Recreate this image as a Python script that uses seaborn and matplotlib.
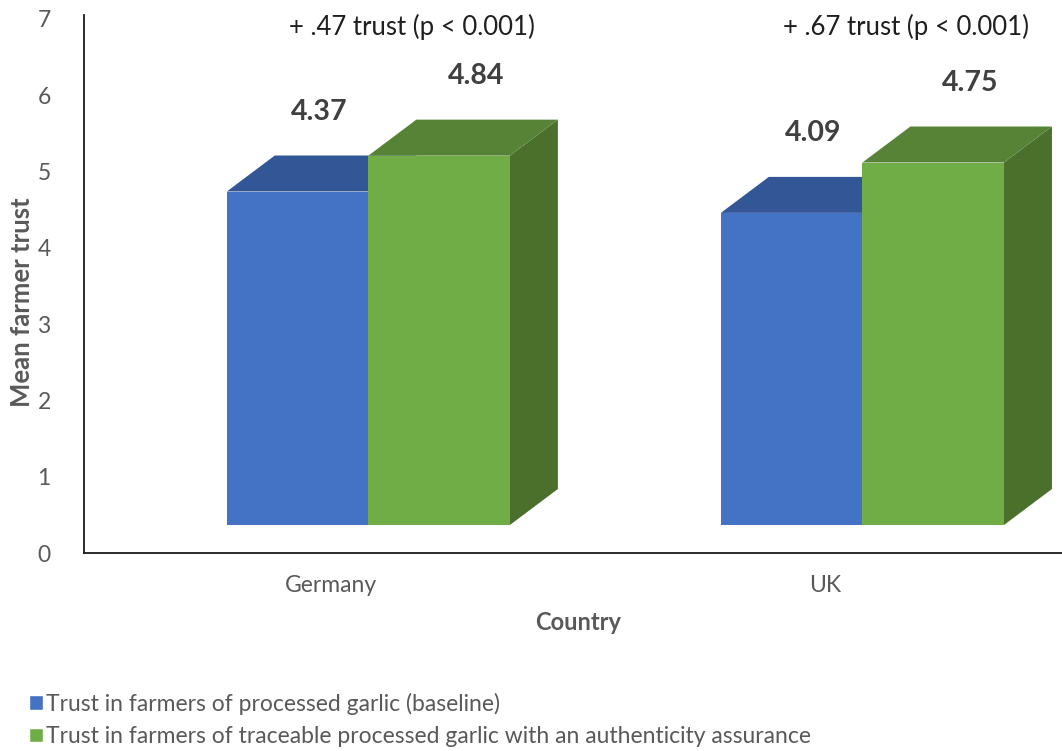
import matplotlib
matplotlib.use("Agg")
import matplotlib.pyplot as plt
import numpy as np
import pandas as pd
import seaborn as sns
from matplotlib.patches import Polygon, Patch
from matplotlib.transforms import Affine2D, IdentityTransform, ScaledTranslation

# ---- data -------------------------------------------------------------
countries = ["Germany", "UK"]
conditions = [
    "Trust in farmers of processed garlic (baseline)",
    "Trust in farmers of traceable processed garlic with an authenticity assurance",
]
baseline_trust = [4.37, 4.09]
assured_trust = [4.84, 4.75]
differences = ["+ .47 trust (p < 0.001)", "+ .67 trust (p < 0.001)"]
y_ticks = [0, 1, 2, 3, 4, 5, 6, 7]

# ---- style ------------------------------------------------------------
BLUE, BLUE_TOP, BLUE_SIDE = "#4472C4", "#335796", "#2E4F8A"
GREEN, GREEN_TOP, GREEN_SIDE = "#70AD47", "#568336", "#4A702C"
TOP_COLORS = [BLUE_TOP, GREEN_TOP]
SIDE_COLORS = [BLUE_SIDE, GREEN_SIDE]
GREY = "#595959"

BASE_PX = 28          # front faces sit above the floor of the 3D box
DEPTH_DX, DEPTH_DY = 48, 36   # receding depth of each column (pixels)
LABEL_DX = [22, 37]   # value label shift per series (pixels)

sns.set_theme(style="white")
plt.rcParams["font.family"] = ["Lato", "DejaVu Sans"]

df = pd.DataFrame({
    "Country": countries * 2,
    "Condition": [conditions[0]] * len(countries) + [conditions[1]] * len(countries),
    "Trust": baseline_trust + assured_trust,
})

fig = plt.figure(figsize=(10.62, 7.51), dpi=100)
ax = fig.add_axes([84 / 1062, 198 / 751, 978 / 1062, 538 / 751])

sns.barplot(
    data=df, x="Country", y="Trust", hue="Condition",
    order=countries, hue_order=conditions,
    palette=[BLUE, GREEN], saturation=1, width=0.573,
    linewidth=0, errorbar=None, legend=False, ax=ax,
)

ax.set_xlim(-0.5755, 1.404)
ax.set_ylim(0, 7.05)
ax.set_yticks(y_ticks)

# ---- 3D column faces ---------------------------------------------------
lift = Affine2D().translate(0, BASE_PX)
for p in list(ax.patches):
    x, w, h = p.get_x(), p.get_width(), p.get_height()
    k = 0 if (x + w / 2) < round(x + w / 2) else 1
    p.set_transform(ax.transData + lift)
    p.set_zorder(2 + k)

    (x0, y0), (x1, y1) = ax.transData.transform([(x, 0), (x + w, h)])
    y0 += BASE_PX
    y1 += BASE_PX
    top = Polygon(
        [(x0, y1), (x1, y1), (x1 + DEPTH_DX, y1 + DEPTH_DY), (x0 + DEPTH_DX, y1 + DEPTH_DY)],
        closed=True, facecolor=TOP_COLORS[k], edgecolor="none",
        transform=IdentityTransform(), zorder=2 + k,
    )
    side = Polygon(
        [(x1, y0), (x1, y1), (x1 + DEPTH_DX, y1 + DEPTH_DY), (x1 + DEPTH_DX, y0 + DEPTH_DY)],
        closed=True, facecolor=SIDE_COLORS[k], edgecolor="none",
        transform=IdentityTransform(), zorder=2 + k - 0.5,
    )
    ax.add_patch(side)
    ax.add_patch(top)

    ax.annotate(
        f"{h:.2f}", xy=(x + w / 2, h), xytext=(LABEL_DX[k], 108),
        textcoords="offset pixels", ha="center", va="center",
        fontsize=20.5, fontweight="bold", color="#404040", zorder=5,
    )

# ---- difference annotations ---------------------------------------------
for i, txt in enumerate(differences):
    ax.annotate(
        txt, xy=(i, 1), xycoords=("data", "axes fraction"),
        xytext=(44, -12), textcoords="offset pixels",
        ha="center", va="center", fontsize=18.5, color="#1f1f1f",
        annotation_clip=False,
    )

# ---- axes styling --------------------------------------------------------
for side_name in ["top", "right"]:
    ax.spines[side_name].set_visible(False)
for side_name in ["left", "bottom"]:
    ax.spines[side_name].set_color("#1a1a1a")
    ax.spines[side_name].set_linewidth(1.3)

ax.tick_params(axis="y", length=0, pad=24, labelsize=16.5, labelcolor=GREY)
ax.tick_params(axis="x", length=0, pad=16, labelsize=16.5, labelcolor=GREY)
ax.grid(False)

shift = ScaledTranslation(-37 / 100, 0, fig.dpi_scale_trans)
for lbl in ax.get_xticklabels():
    lbl.set_transform(lbl.get_transform() + shift)

ax.set_xlabel("Country", fontsize=17, fontweight="bold", color=GREY, va="center")
ax.xaxis.set_label_coords((578 - 84) / 978, (553 - 622) / 538)
ax.set_ylabel("Mean farmer trust", fontsize=18.5, fontweight="bold", color=GREY, va="center")
ax.yaxis.set_label_coords((22 - 84) / 978, (553 - 302) / 538)

handles = [Patch(facecolor=BLUE), Patch(facecolor=GREEN)]
fig.legend(
    handles, conditions, loc="center left",
    bbox_to_anchor=(29 / 1062, (751 - 720) / 751),
    frameon=False, fontsize=16.5, handlelength=0.6, handleheight=0.6,
    handletextpad=0.15, labelspacing=0.5, borderpad=0, borderaxespad=0,
    labelcolor=GREY,
)

fig.savefig("out.png", dpi=100, facecolor="white")
